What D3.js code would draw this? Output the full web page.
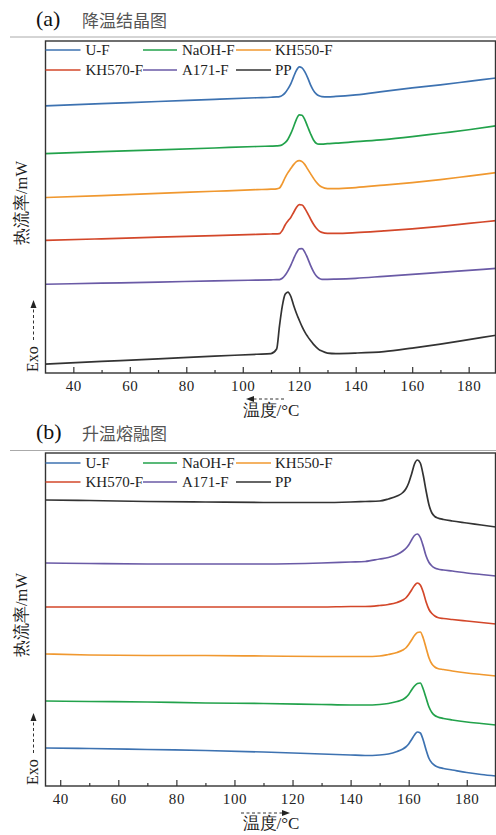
<!DOCTYPE html>
<html>
<head>
<meta charset="utf-8">
<script src="https://cdn.jsdelivr.net/npm/d3@7"></script>
<style>
  body { margin: 0; background: #fff; }
  svg { display: block; }
</style>
</head>
<body>
<svg id="chart"></svg>
<script>
const seriesNames = ["U-F", "NaOH-F", "KH550-F", "KH570-F", "A171-F", "PP"];
const seriesColors = ["#3d72b1", "#22a24b", "#f0982f", "#d3472a", "#6a5aa6", "#333333"];
const xTicks = [40, 60, 80, 100, 120, 140, 160, 180];
const xMinorTicks = [50, 70, 90, 110, 130, 150, 170];

// (a) cooling curves, heat flow (arbitrary offset units)
const tempA = [30, 50, 70, 90, 105, 110, 112, 113, 114, 115, 116, 117, 118, 119, 120, 121, 122, 123, 124, 125, 126, 127, 128, 130, 133, 140, 150, 160, 170, 180, 190];
const coolUF = [26.80, 27.02, 27.23, 27.45, 27.61, 27.66, 27.69, 27.72, 27.85, 28.10, 28.50, 29.00, 29.70, 30.35, 30.70, 30.60, 30.20, 29.60, 28.90, 28.35, 28.00, 27.80, 27.72, 27.70, 27.74, 27.90, 28.25, 28.60, 28.90, 29.25, 29.60];
const coolNaOH = [22.00, 22.20, 22.38, 22.57, 22.72, 22.76, 22.78, 22.80, 22.90, 23.10, 23.45, 24.00, 24.70, 25.45, 25.90, 25.85, 25.40, 24.70, 24.00, 23.40, 23.05, 22.95, 22.95, 23.00, 23.05, 23.20, 23.40, 23.70, 24.05, 24.40, 24.80];
const coolKH550 = [17.60, 17.80, 18.02, 18.23, 18.39, 18.44, 18.47, 18.55, 19.00, 19.60, 20.10, 20.50, 20.90, 21.20, 21.30, 21.20, 20.90, 20.45, 20.00, 19.55, 19.15, 18.85, 18.65, 18.50, 18.50, 18.60, 18.85, 19.10, 19.40, 19.75, 20.10];
const coolKH570 = [13.30, 13.46, 13.62, 13.78, 13.90, 13.94, 13.96, 13.98, 14.30, 14.85, 15.25, 15.60, 16.10, 16.60, 16.88, 16.85, 16.50, 16.00, 15.45, 14.95, 14.55, 14.25, 14.10, 14.00, 14.00, 14.07, 14.25, 14.45, 14.70, 15.00, 15.30];
const coolA171 = [8.90, 9.01, 9.12, 9.24, 9.32, 9.35, 9.36, 9.37, 9.50, 9.80, 10.25, 10.80, 11.45, 12.05, 12.45, 12.47, 12.10, 11.50, 10.80, 10.20, 9.75, 9.50, 9.40, 9.40, 9.42, 9.50, 9.70, 9.90, 10.10, 10.30, 10.50];
const coolPP = [0.90, 1.16, 1.42, 1.69, 1.88, 1.95, 2.40, 4.70, 6.70, 7.90, 8.12, 7.70, 6.80, 6.00, 5.30, 4.65, 4.10, 3.65, 3.25, 2.90, 2.60, 2.35, 2.20, 2.00, 1.95, 2.00, 2.15, 2.50, 2.90, 3.35, 3.80];

// (b) heating curves
const tempB = [35, 50, 70, 90, 110, 130, 140, 145, 150, 153, 156, 158, 159, 160, 161, 162, 163, 164, 165, 166, 167, 168, 169, 170, 172, 175, 180, 185, 190];
const heatUF = [3.80, 3.75, 3.65, 3.55, 3.40, 3.20, 3.10, 3.05, 3.10, 3.20, 3.45, 3.70, 3.90, 4.20, 4.65, 5.10, 5.40, 5.30, 4.60, 3.60, 2.75, 2.30, 2.05, 1.90, 1.75, 1.60, 1.35, 1.15, 1.00];
const heatNaOH = [8.50, 8.45, 8.40, 8.30, 8.25, 8.15, 8.10, 8.10, 8.15, 8.25, 8.45, 8.65, 8.85, 9.15, 9.60, 10.00, 10.25, 10.30, 9.70, 8.80, 7.90, 7.35, 7.05, 6.90, 6.75, 6.60, 6.40, 6.25, 6.10];
const heatKH550 = [13.20, 13.10, 13.05, 13.05, 13.00, 12.95, 12.95, 12.95, 13.00, 13.15, 13.35, 13.60, 13.80, 14.15, 14.60, 15.05, 15.35, 15.40, 14.80, 13.80, 12.80, 12.20, 11.90, 11.75, 11.65, 11.50, 11.30, 11.15, 11.00];
const heatKH570 = [17.90, 17.90, 17.90, 17.90, 17.90, 17.90, 17.95, 17.95, 18.05, 18.15, 18.35, 18.60, 18.80, 19.15, 19.60, 20.05, 20.30, 20.10, 19.40, 18.40, 17.65, 17.25, 17.00, 16.85, 16.75, 16.65, 16.50, 16.35, 16.20];
const heatA171 = [22.30, 22.25, 22.20, 22.20, 22.20, 22.30, 22.40, 22.45, 22.70, 22.85, 23.15, 23.50, 23.75, 24.10, 24.60, 25.05, 25.20, 24.85, 24.00, 23.00, 22.35, 22.00, 21.80, 21.70, 21.60, 21.50, 21.30, 21.15, 21.00];
const heatPP = [28.60, 28.55, 28.45, 28.40, 28.35, 28.35, 28.40, 28.45, 28.50, 28.70, 29.00, 29.35, 29.70, 30.30, 31.20, 32.20, 32.60, 32.30, 31.10, 29.50, 28.10, 27.30, 26.95, 26.80, 26.65, 26.50, 26.30, 26.10, 25.90];

const width = 496;
const height = 835;
const latin = "'Liberation Serif', 'Times New Roman', serif";
const cjk = "'Noto Sans CJK SC', sans-serif";

const svg = d3.select("svg#chart")
  .attr("width", width)
  .attr("height", height)
  .attr("viewBox", [0, 0, width, height]);

function arrowLine(g, x1, y1, x2, y2) {
  // dashed shaft with a small filled head at (x2, y2)
  const ang = Math.atan2(y2 - y1, x2 - x1);
  const hl = 8, hw = 3;
  const bx = x2 - hl * Math.cos(ang), by = y2 - hl * Math.sin(ang);
  g.append("line")
    .attr("x1", x1).attr("y1", y1).attr("x2", bx).attr("y2", by)
    .attr("stroke", "#333").attr("stroke-width", 1)
    .attr("stroke-dasharray", "3,2.5");
  g.append("path")
    .attr("d", `M${x2},${y2}L${bx - hw * Math.sin(ang)},${by + hw * Math.cos(ang)}L${bx + hw * Math.sin(ang)},${by - hw * Math.cos(ang)}Z`)
    .attr("fill", "#222");
}

function drawPanel(cfg) {
  const { id, top, bottom, left, right, xDomain, xRange, temps, series, letter, title, headerY, sepY, legendY, heating } = cfg;
  const g = svg.append("g");

  const x = d3.scaleLinear(xDomain, xRange);
  const y = d3.scaleLinear([0, 33.3], [bottom, top]);

  // header
  g.append("text")
    .attr("x", 36).attr("y", headerY)
    .attr("font-family", latin).attr("font-size", 22).attr("fill", "#111")
    .text(`(${letter})`);
  g.append("text")
    .attr("x", 82).attr("y", headerY + 1)
    .attr("font-family", cjk).attr("font-size", 17).attr("fill", "#555")
    .text(title);
  g.append("line")
    .attr("x1", 10).attr("x2", width).attr("y1", sepY).attr("y2", sepY)
    .attr("stroke", "#aaa").attr("stroke-width", 1);

  // curves
  g.append("clipPath").attr("id", id)
    .append("rect")
    .attr("x", left).attr("y", top).attr("width", right - left).attr("height", bottom - top);

  const line = d3.line()
    .x(d => x(d[0]))
    .y(d => y(d[1]))
    .curve(d3.curveMonotoneX);

  series.forEach((vals, i) => {
    g.append("path")
      .attr("clip-path", `url(#${id})`)
      .attr("fill", "none")
      .attr("stroke", seriesColors[i])
      .attr("stroke-width", 1.7)
      .attr("d", line(temps.map((t, j) => [t, vals[j]])));
  });

  // x axis: ticks pointing inward
  g.append("g")
    .attr("transform", `translate(0,${bottom})`)
    .call(d3.axisBottom(x).tickValues(xTicks).tickSize(-6).tickPadding(7))
    .call(a => a.select(".domain").remove())
    .call(a => a.selectAll(".tick line").attr("stroke", "#333").attr("stroke-width", 1.2))
    .call(a => a.selectAll(".tick text")
      .attr("font-family", latin).attr("font-size", 15).attr("letter-spacing", 0.6).attr("fill", "#222"));
  g.append("g")
    .attr("transform", `translate(0,${bottom})`)
    .call(d3.axisBottom(x).tickValues(xMinorTicks).tickSize(-3).tickFormat(""))
    .call(a => a.select(".domain").remove())
    .call(a => a.selectAll(".tick line").attr("stroke", "#333").attr("stroke-width", 1.2));

  // frame
  g.append("rect")
    .attr("x", left).attr("y", top)
    .attr("width", right - left).attr("height", bottom - top)
    .attr("fill", "none").attr("stroke", "#333").attr("stroke-width", 1.4);

  // legend
  const legCols = [[left, left + 35, left + 40], [143, 177, 182], [236, 271, 275]];
  seriesNames.forEach((name, i) => {
    const c = legCols[i % 3];
    const ly = legendY[Math.floor(i / 3)];
    g.append("line")
      .attr("x1", c[0]).attr("x2", c[1]).attr("y1", ly).attr("y2", ly)
      .attr("stroke", seriesColors[i]).attr("stroke-width", 1.7);
    g.append("text")
      .attr("x", c[2]).attr("y", ly + 5)
      .attr("font-family", latin).attr("font-size", 15).attr("fill", "#222")
      .text(name);
  });

  // axis titles
  g.append("text")
    .attr("transform", `translate(27,${top + 162}) rotate(-90)`)
    .attr("text-anchor", "middle")
    .attr("font-family", latin).attr("font-size", 16.5).attr("fill", "#222")
    .text("热流率/mW");
  g.append("text")
    .attr("transform", `translate(38,${bottom - 1}) rotate(-90)`)
    .attr("text-anchor", "start")
    .attr("font-family", latin).attr("font-size", 16).attr("fill", "#222")
    .text("Exo");
  arrowLine(g, 33.5, bottom - 33, 33.5, bottom - 73);

  g.append("text")
    .attr("x", 271).attr("y", bottom + 43)
    .attr("text-anchor", "middle")
    .attr("font-family", latin).attr("font-size", 17).attr("fill", "#222")
    .text("温度/°C");
  if (heating) arrowLine(g, 241, bottom + 27, 290, bottom + 27);
  else arrowLine(g, 284, bottom + 26, 246, bottom + 26);
}

drawPanel({
  id: "clipA", top: 41, bottom: 373, left: 45.5, right: 495.5,
  xDomain: [30, 190], xRange: [45.1, 496.9],
  temps: tempA,
  series: [coolUF, coolNaOH, coolKH550, coolKH570, coolA171, coolPP],
  letter: "a", title: "降温结晶图", headerY: 26, sepY: 37, legendY: [50, 70],
  heating: false
});

drawPanel({
  id: "clipB", top: 453, bottom: 786, left: 45.5, right: 495.5,
  xDomain: [35, 190], xRange: [45.7, 495.8],
  temps: tempB,
  series: [heatUF, heatNaOH, heatKH550, heatKH570, heatA171, heatPP],
  letter: "b", title: "升温熔融图", headerY: 439, sepY: 450.5, legendY: [463, 482],
  heating: true
});
</script>
</body>
</html>
